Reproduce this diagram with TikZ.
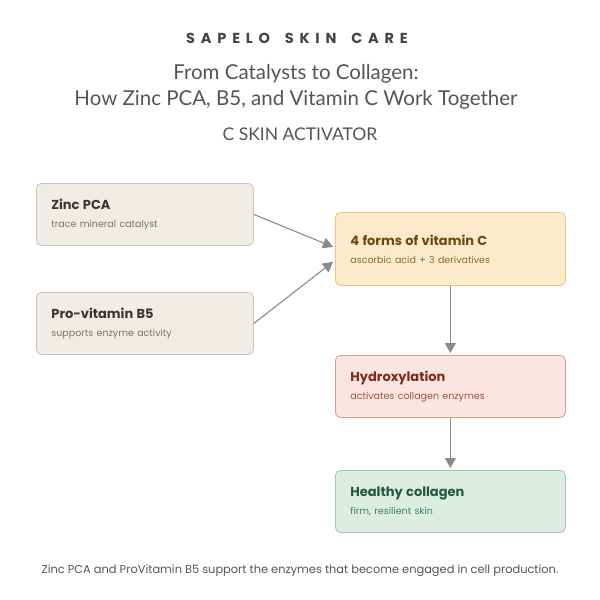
\documentclass[tikz,border=0pt]{standalone}
\usepackage{fontspec}
\usepackage{tikz}
\usetikzlibrary{positioning}
\usetikzlibrary{calc}
\usetikzlibrary{arrows.meta}
\setmainfont{Poppins}
\newfontfamily\headfont{Lato}
\newfontfamily\brandfont[LetterSpace=40]{Poppins}
\definecolor{tanfill}{HTML}{F0ECE5}
\definecolor{tanline}{HTML}{CCC5BA}
\definecolor{tantext}{HTML}{3A3632}
\definecolor{tansub}{HTML}{7A746C}
\definecolor{vitfill}{HTML}{FBEACB}
\definecolor{vitline}{HTML}{EFC47A}
\definecolor{vittext}{HTML}{6B4A10}
\definecolor{vitsub}{HTML}{8F6A2B}
\definecolor{hydfill}{HTML}{FAE5E1}
\definecolor{hydline}{HTML}{DE9A8E}
\definecolor{hydtext}{HTML}{7E2A1C}
\definecolor{hydsub}{HTML}{A24F40}
\definecolor{colfill}{HTML}{DCEEE4}
\definecolor{colline}{HTML}{9CCBB1}
\definecolor{coltext}{HTML}{1E5A3C}
\definecolor{colsub}{HTML}{3F7E5E}
\definecolor{arrowgray}{HTML}{8A8A8A}
\definecolor{headgray}{HTML}{555555}
\definecolor{brandgray}{HTML}{444444}
\tikzstyle{card}=[rectangle, rounded corners=5pt, line width=0.8pt, anchor=north west,
  inner xsep=15pt, inner ysep=0pt, align=left]
\tikzstyle{flow}=[-{Triangle[length=10pt,width=11pt]}, line width=1.1pt, draw=arrowgray, color=arrowgray]
\newcommand{\cardtext}[4]{{\color{#1}\bfseries\fontsize{13}{15}\selectfont #2}\\[6pt]{\color{#3}\fontsize{9.5}{11}\selectfont #4}}
\tikzset{>=latex}

\begin{document}
\begin{tikzpicture}[x=1pt, y=-1pt]
    \useasboundingbox[fill=white] (0,0) rectangle (600,600);

    % heading
    \node[text=brandgray, font=\brandfont\bfseries\fontsize{14.5}{16}\selectfont] (brand) at (297,38)
        {SAPELO\hspace{6pt} SKIN\hspace{6pt} CARE};
    \node[align=center, text=headgray, font=\headfont\fontsize{20.5}{26}\selectfont] (title) at (296,87)
        {From Catalysts to Collagen:\\How Zinc PCA, B5, and Vitamin C Work Together};
    \node[text=headgray, font=\headfont\fontsize{17.5}{20}\selectfont] (product) at (300,134) {C SKIN ACTIVATOR};

    % inputs on the left
    \node[card, fill=tanfill, draw=tanline, minimum width=217pt, minimum height=62pt, text width=187pt] (zinc) at (36,183)
        {\cardtext{tantext}{Zinc PCA}{tansub}{trace mineral catalyst}};
    \node[card, fill=tanfill, draw=tanline, minimum width=217pt, minimum height=62pt, text width=187pt] (bfive) at (36,292)
        {\cardtext{tantext}{Pro-vitamin B5}{tansub}{supports enzyme activity}};

    % chain on the right
    \node[card, fill=vitfill, draw=vitline, minimum width=230pt, minimum height=73pt, text width=200pt] (vitc) at (335,212)
        {\cardtext{vittext}{4 forms of vitamin C}{vitsub}{ascorbic acid + 3 derivatives}};
    \node[card, fill=hydfill, draw=hydline, minimum width=230pt, minimum height=62pt, text width=200pt] (hydrox) at (335,355)
        {\cardtext{hydtext}{Hydroxylation}{hydsub}{activates collagen enzymes}};
    \node[card, fill=colfill, draw=colline, minimum width=230pt, minimum height=62pt, text width=200pt] (collagen) at (335,470)
        {\cardtext{coltext}{Healthy collagen}{colsub}{firm, resilient skin}};

    % arrows
    \coordinate (inzinc) at ($(vitc.west)+(-2,-2)$);
    \coordinate (inbfive) at ($(vitc.west)+(-2,13)$);
    \draw[flow] (zinc.east) -- (inzinc);
    \draw[flow] (bfive.east) -- (inbfive);
    \draw[flow, shorten >=2pt] (vitc.south) -- (hydrox.north);
    \draw[flow, shorten >=2pt] (hydrox.south) -- (collagen.north);

    % footnote
    \node[text=headgray, font=\fontsize{11.4}{13}\selectfont] (note) at (300,571)
        {Zinc PCA and ProVitamin B5 support the enzymes that become engaged in cell production.};
\end{tikzpicture}
\end{document}
